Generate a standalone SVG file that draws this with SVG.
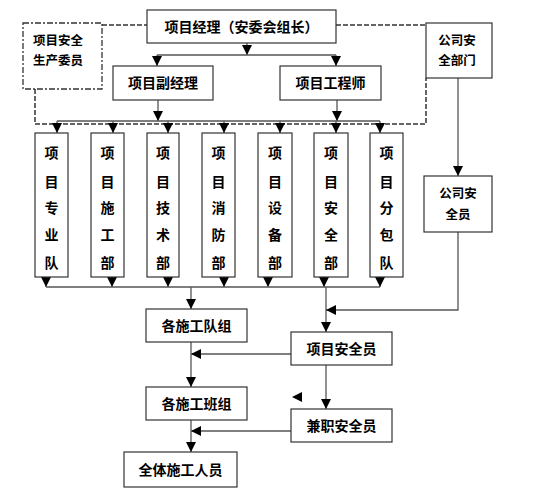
<svg xmlns="http://www.w3.org/2000/svg" width="555" height="498" viewBox="0 0 555 498">
<defs>
<marker id="arr" viewBox="0 0 10 10" refX="10" refY="5" markerWidth="10" markerHeight="10" markerUnits="userSpaceOnUse" orient="auto"><path d="M0,0 L10,5 L0,10 z" fill="#000"/></marker>
<style>
.box{fill:#fff;stroke:#333;stroke-width:1.2}
.dd{fill:#fff;stroke:#333;stroke-width:1.3;stroke-dasharray:6 2 2 2}
.ln{fill:none;stroke:#555;stroke-width:1.3}
.dl{fill:none;stroke:#333;stroke-width:1.5;stroke-dasharray:5 2}
.a{marker-end:url(#arr)}
text{font-family:"Noto Sans CJK SC","Liberation Sans",sans-serif;font-size:14px;font-weight:bold;fill:#000;text-anchor:middle}
.s{font-size:12.5px}
</style>
</defs>
<rect width="555" height="498" fill="#fff"/>
<g id="connectors">
<path class="dl" d="M102,25 H147"/>
<path class="dl" d="M336,25 H426"/>
<path class="dl" d="M35,89 V124 H426 V78"/>
<path class="ln a" d="M247,43 V55"/>
<path class="ln" d="M157,55 H336"/>
<path class="ln a" d="M157,55 V66"/>
<path class="ln a" d="M336,55 V66"/>
<path class="ln a" d="M158,100 V121"/>
<path class="ln a" d="M337,100 V121"/>
<path class="ln" d="M57,121 H380"/>
<path class="ln a" d="M57,121 V133"/>
<path class="ln a" d="M113,121 V133"/>
<path class="ln a" d="M168,121 V133"/>
<path class="ln a" d="M224,121 V133"/>
<path class="ln a" d="M280,121 V133"/>
<path class="ln a" d="M336,121 V133"/>
<path class="ln a" d="M380,121 V133"/>
<path class="ln a" d="M46,277 V287"/>
<path class="ln a" d="M112,277 V287"/>
<path class="ln a" d="M168,277 V287"/>
<path class="ln a" d="M224,277 V287"/>
<path class="ln a" d="M268,277 V287"/>
<path class="ln a" d="M324,277 V287"/>
<path class="ln a" d="M380,277 V287"/>
<path class="ln" d="M46,287 H380"/>
<path class="ln a" d="M191,287 V309"/>
<path class="ln a" d="M326,287 V332"/>
<path class="ln a" d="M458,78 V176"/>
<path class="ln a" d="M458,232 V310 H326"/>
<path class="ln a" d="M291,354 H191"/>
<path class="ln a" d="M191,342 V387"/>
<path class="ln a" d="M326,365 V409"/>
<polygon points="292,397 302,392 302,402" fill="#000"/>
<path class="ln a" d="M291,431 H191"/>
<path class="ln a" d="M191,420 V452"/>
</g>
<g id="n-pm"><rect class="box" x="147" y="10" width="189" height="33"/><text x="241.5" y="32">项目经理（安委会组长）</text></g>
<g id="n-committee"><rect class="dd" x="23" y="23" width="79" height="66"/><text class="s" x="58" y="45">项目安全</text><text class="s" x="58" y="65">生产委员</text></g>
<g id="n-company-dept"><rect class="box" x="426" y="23" width="66" height="55"/><text class="s" x="457" y="45">公司安</text><text class="s" x="457" y="65">全部门</text></g>
<g id="n-deputy"><rect class="box" x="113" y="66" width="100" height="34"/><text x="163" y="88">项目副经理</text></g>
<g id="n-engineer"><rect class="box" x="280" y="66" width="101" height="34"/><text x="330.5" y="88">项目工程师</text></g>
<g id="n-d1"><rect class="box" x="35" y="133" width="33" height="144"/><text x="51.5" y="158">项</text><text x="51.5" y="187">目</text><text x="51.5" y="213">专</text><text x="51.5" y="240">业</text><text x="51.5" y="268">队</text></g>
<g id="n-d2"><rect class="box" x="91" y="133" width="33" height="144"/><text x="107.5" y="158">项</text><text x="107.5" y="187">目</text><text x="107.5" y="213">施</text><text x="107.5" y="240">工</text><text x="107.5" y="268">部</text></g>
<g id="n-d3"><rect class="box" x="147" y="133" width="32" height="144"/><text x="163" y="158">项</text><text x="163" y="187">目</text><text x="163" y="213">技</text><text x="163" y="240">术</text><text x="163" y="268">部</text></g>
<g id="n-d4"><rect class="box" x="202" y="133" width="33" height="144"/><text x="218.5" y="158">项</text><text x="218.5" y="187">目</text><text x="218.5" y="213">消</text><text x="218.5" y="240">防</text><text x="218.5" y="268">部</text></g>
<g id="n-d5"><rect class="box" x="258" y="133" width="34" height="144"/><text x="275" y="158">项</text><text x="275" y="187">目</text><text x="275" y="213">设</text><text x="275" y="240">备</text><text x="275" y="268">部</text></g>
<g id="n-d6"><rect class="box" x="314" y="133" width="34" height="144"/><text x="331" y="158">项</text><text x="331" y="187">目</text><text x="331" y="213">安</text><text x="331" y="240">全</text><text x="331" y="268">部</text></g>
<g id="n-d7"><rect class="box" x="370" y="133" width="33" height="144"/><text x="386.5" y="158">项</text><text x="386.5" y="187">目</text><text x="386.5" y="213">分</text><text x="386.5" y="240">包</text><text x="386.5" y="268">队</text></g>
<g id="n-company-officer"><rect class="box" x="424" y="176" width="68" height="56"/><text class="s" x="458" y="198">公司安</text><text class="s" x="458" y="219">全员</text></g>
<g id="n-teams"><rect class="box" x="146" y="309" width="101" height="33"/><text x="196.5" y="331">各施工队组</text></g>
<g id="n-proj-officer"><rect class="box" x="291" y="332" width="101" height="33"/><text x="341.5" y="354">项目安全员</text></g>
<g id="n-crews"><rect class="box" x="146" y="387" width="101" height="33"/><text x="196.5" y="409">各施工班组</text></g>
<g id="n-parttime"><rect class="box" x="291" y="409" width="101" height="33"/><text x="341.5" y="431">兼职安全员</text></g>
<g id="n-all"><rect class="box" x="124" y="452" width="113" height="35"/><text x="180.5" y="475">全体施工人员</text></g>
</svg>
